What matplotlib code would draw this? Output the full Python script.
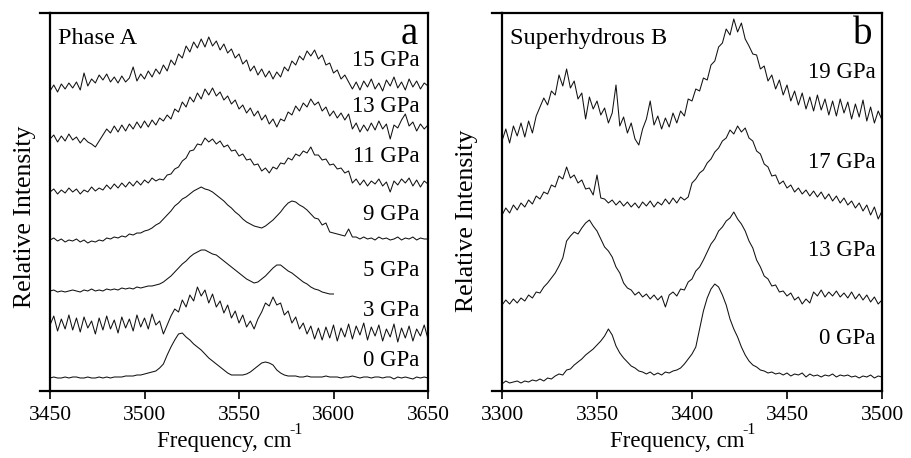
import numpy as np
import matplotlib
matplotlib.use("Agg")
import matplotlib.pyplot as plt
from matplotlib.lines import Line2D

plt.rcParams['font.family'] = ['Liberation Serif', 'DejaVu Serif']

# ---------------- Data (relative intensity with stacking offsets) ----------------
freq_a = np.arange(3450, 3651, 2)
freq_a5 = np.arange(3450, 3601, 2)
freq_b = np.arange(3300, 3501, 2)

a_15gpa = [300, 306, 299, 307, 302, 308, 303, 309, 301, 318, 305, 312, 308, 316, 311, 317, 309, 314, 308, 315,
           309, 313, 324, 310, 317, 312, 320, 314, 322, 317, 326, 320, 331, 326, 337, 333, 345, 339, 349, 343,
           352, 344, 354, 345, 350, 341, 347, 338, 342, 333, 337, 327, 331, 320, 325, 316, 322, 314, 320, 312,
           319, 314, 324, 320, 330, 326, 335, 331, 340, 335, 341, 332, 336, 326, 328, 318, 321, 312, 316, 309,
           302, 309, 301, 310, 304, 312, 302, 308, 300, 311, 305, 314, 303, 309, 301, 312, 304, 310, 302, 308, 305]
a_13gpa = [252, 256, 249, 255, 250, 257, 251, 254, 248, 253, 249, 247, 244, 250, 256, 262, 258, 265, 259, 266,
           260, 267, 262, 269, 263, 270, 264, 271, 266, 273, 270, 276, 272, 282, 279, 289, 284, 294, 289, 298,
           292, 302, 296, 303, 295, 299, 291, 295, 287, 291, 282, 286, 278, 283, 275, 280, 271, 276, 267, 272,
           264, 272, 270, 279, 276, 285, 280, 288, 284, 292, 286, 289, 280, 284, 275, 280, 273, 278, 271, 277,
           262, 268, 259, 266, 260, 268, 261, 270, 262, 267, 252, 266, 263, 271, 277, 265, 269, 260, 267, 262, 266]
a_11gpa = [199, 202, 197, 201, 198, 203, 199, 202, 197, 201, 199, 204, 200, 203, 201, 206, 202, 207, 203, 208,
           204, 209, 205, 210, 206, 211, 208, 213, 210, 212, 211, 216, 217, 222, 224, 230, 233, 240, 241, 247,
           246, 253, 249, 252, 247, 250, 244, 246, 240, 241, 235, 237, 231, 232, 226, 227, 220, 223, 218, 224,
           222, 228, 227, 233, 231, 237, 235, 240, 238, 244, 236, 236, 231, 232, 226, 227, 222, 223, 218, 220,
           208, 212, 206, 211, 205, 210, 207, 212, 205, 209, 199, 210, 206, 212, 208, 213, 205, 211, 204, 210, 207]
a_9gpa = [151, 153, 150, 152, 149, 151, 150, 152, 149, 151, 148, 150, 149, 151, 150, 153, 152, 154, 153, 155,
          154, 157, 156, 158, 158, 160, 161, 163, 166, 168, 172, 176, 180, 185, 188, 192, 194, 197, 200, 202,
          204, 202, 201, 199, 196, 193, 190, 186, 183, 179, 176, 172, 169, 167, 165, 164, 163, 165, 168, 171,
          175, 179, 184, 188, 190, 189, 186, 184, 181, 177, 173, 172, 166, 168, 159, 158, 157, 156, 155, 162,
          154, 154, 152, 154, 152, 153, 151, 154, 152, 153, 151, 152, 154, 151, 153, 152, 154, 151, 153, 152, 152]
a_5gpa = [100, 101, 99, 100, 99, 100, 101, 100, 99, 101, 100, 102, 100, 101, 100, 102, 101, 102, 101, 103,
          102, 103, 102, 104, 103, 104, 105, 105, 106, 107, 109, 112, 115, 119, 123, 127, 130, 134, 137, 139,
          141, 141, 139, 137, 136, 133, 130, 127, 124, 121, 118, 115, 112, 110, 108, 109, 112, 115, 119, 123,
          126, 126, 123, 120, 118, 115, 112, 109, 107, 104, 102, 101, 99, 98, 97, 97]
a_3gpa = [66, 75, 60, 72, 62, 76, 61, 73, 59, 74, 63, 70, 57, 73, 61, 75, 62, 71, 58, 74,
          63, 72, 60, 76, 64, 73, 62, 77, 66, 70, 57, 66, 75, 82, 79, 91, 84, 96, 90, 104,
          95, 101, 88, 97, 84, 90, 78, 86, 73, 80, 68, 76, 64, 70, 62, 72, 79, 88, 85, 94,
          86, 88, 76, 80, 68, 74, 62, 68, 57, 65, 52, 63, 51, 64, 53, 66, 50, 63, 54, 67,
          52, 65, 56, 68, 51, 64, 55, 66, 50, 62, 54, 67, 49, 63, 53, 65, 50, 62, 55, 66, 52]
a_0gpa = [13, 14, 13, 13, 14, 13, 14, 14, 13, 13, 14, 13, 13, 14, 13, 14, 13, 14, 14, 14,
          15, 15, 15, 16, 16, 17, 18, 19, 20, 23, 27, 36, 44, 51, 57, 58, 54, 51, 47, 44,
          41, 37, 33, 30, 27, 24, 21, 18, 16, 16, 16, 16, 17, 19, 22, 25, 28, 29, 28, 26,
          21, 18, 16, 15, 15, 15, 14, 14, 15, 14, 14, 14, 14, 15, 14, 14, 14, 13, 14, 14,
          15, 14, 13, 14, 14, 13, 14, 14, 13, 14, 14, 12, 14, 13, 14, 13, 12, 14, 13, 14, 13]

b_19gpa = [250, 262, 248, 265, 255, 268, 254, 270, 258, 275, 284, 293, 286, 300, 296, 316, 305, 322, 303, 310,
           292, 298, 272, 294, 282, 290, 276, 283, 268, 278, 306, 265, 274, 258, 268, 252, 246, 262, 272, 290,
           266, 275, 262, 273, 264, 278, 268, 280, 275, 292, 290, 302, 300, 313, 311, 326, 330, 344, 348, 362,
           356, 372, 359, 368, 352, 345, 337, 336, 322, 325, 310, 316, 302, 311, 296, 306, 290, 300, 286, 298,
           282, 294, 280, 296, 281, 292, 276, 290, 275, 292, 278, 289, 272, 287, 274, 291, 270, 284, 268, 280, 271]
b_17gpa = [176, 183, 178, 186, 181, 188, 184, 191, 187, 195, 192, 199, 197, 206, 204, 215, 212, 224, 213, 216,
           208, 211, 202, 203, 196, 216, 193, 192, 188, 191, 186, 190, 185, 189, 184, 188, 183, 189, 185, 190,
           184, 189, 186, 192, 187, 193, 188, 194, 191, 194, 208, 212, 218, 221, 228, 232, 239, 243, 250, 253,
           261, 257, 265, 259, 263, 253, 250, 240, 237, 227, 224, 215, 216, 207, 210, 203, 206, 199, 203, 197,
           201, 195, 200, 194, 199, 192, 197, 190, 195, 188, 193, 186, 190, 183, 188, 180, 186, 176, 184, 172, 180]
b_13gpa = [86, 91, 87, 92, 88, 93, 90, 96, 93, 99, 98, 104, 108, 113, 118, 125, 133, 150, 155, 159,
           157, 163, 168, 171, 165, 160, 152, 144, 140, 134, 124, 118, 108, 103, 101, 96, 99, 94, 97, 92,
           96, 91, 95, 84, 96, 99, 95, 102, 101, 109, 112, 120, 124, 131, 139, 147, 152, 160, 164, 170,
           173, 179, 172, 167, 160, 150, 143, 131, 124, 115, 112, 105, 106, 99, 100, 95, 98, 91, 94, 87,
           92, 88, 99, 95, 101, 94, 99, 95, 100, 94, 98, 93, 99, 92, 97, 91, 96, 89, 94, 87, 91]
b_0gpa = [7, 10, 8, 9, 10, 8, 10, 9, 11, 10, 12, 10, 13, 12, 15, 17, 16, 21, 22, 26,
          29, 32, 36, 39, 42, 46, 50, 55, 62, 56, 45, 38, 33, 29, 25, 23, 20, 19, 17, 19,
          16, 18, 16, 19, 18, 20, 21, 23, 27, 32, 37, 44, 62, 80, 93, 102, 107, 104, 96, 86,
          72, 62, 54, 44, 36, 30, 26, 24, 21, 20, 18, 19, 17, 18, 16, 18, 15, 17, 16, 18,
          14, 17, 15, 16, 14, 16, 15, 17, 14, 16, 15, 16, 14, 15, 13, 15, 14, 16, 13, 15, 14]

labels_a = ['15 GPa', '13 GPa', '11 GPa', '9 GPa', '5 GPa', '3 GPa', '0 GPa']
label_heights_a = [330, 285, 234, 177, 121, 80, 30]
labels_b = ['19 GPa', '17 GPa', '13 GPa', '0 GPa']
label_heights_b = [318, 228, 140, 53]
ticks_a = [3450, 3500, 3550, 3600, 3650]
ticks_b = [3300, 3350, 3400, 3450, 3500]

# ---------------- Figure ----------------
fig = plt.figure(figsize=(9.11, 4.58), dpi=100)
ax_a = fig.add_axes([50/911, 1-391/458, 378/911, 378/458])
ax_b = fig.add_axes([502/911, 1-391/458, 380/911, 378/458])

LW = 0.75
COL = '#111111'
FS = 16.5
TFS = 15.5

series_a = [(freq_a, a_15gpa), (freq_a, a_13gpa), (freq_a, a_11gpa), (freq_a, a_9gpa),
            (freq_a5, a_5gpa), (freq_a, a_3gpa), (freq_a, a_0gpa)]
for x, y in series_a:
    ax_a.plot(x, y, color=COL, lw=LW)
series_b = [(freq_b, b_19gpa), (freq_b, b_17gpa), (freq_b, b_13gpa), (freq_b, b_0gpa)]
for x, y in series_b:
    ax_b.plot(x, y, color=COL, lw=LW)

for ax, ticks, labels, heights, xlab_x, panel, title in [
        (ax_a, ticks_a, labels_a, label_heights_a, 3645.5, 'a', 'Phase A'),
        (ax_b, ticks_b, labels_b, label_heights_b, 3496.5, 'b', 'Superhydrous B')]:
    ax.set_xlim(ticks[0], ticks[-1])
    ax.set_ylim(0, 378)
    ax.set_xticks(ticks)
    ax.set_yticks([])
    ax.tick_params(axis='x', direction='out', length=6, width=1.2, pad=5, labelsize=TFS)
    for s in ax.spines.values():
        s.set_linewidth(1.6)
    xl = ax.set_xlabel('Frequency, cm', fontsize=FS)
    xl.set_verticalalignment('top')
    ax.xaxis.set_label_coords(0.46, -0.107)
    ax.annotate('-1', xy=(1.0, 1.0), xycoords=xl, xytext=(-1.5, 1), textcoords='offset points',
                ha='left', va='center', fontsize=11.5)
    ax.set_ylabel('Relative Intensity', fontsize=18.5)
    for lab, h in zip(labels, heights):
        ax.text(xlab_x, h, lab, ha='right', va='center', fontsize=FS)
    ax.text(0.02, 0.918, title, transform=ax.transAxes, ha='left', va='baseline', fontsize=17.5)
    ax.text(0.95, 0.918, panel, transform=ax.transAxes, ha='center', va='baseline', fontsize=28)
    # horizontal frame lines extend slightly left of the left spine
    for yy in (0, 1):
        ax.add_line(Line2D([-0.027, 0], [yy, yy], transform=ax.transAxes, color='black',
                           lw=1.6, clip_on=False))

ax_a.yaxis.set_label_coords(-0.038, 0.46)
ax_b.yaxis.set_label_coords(-0.062, 0.45)

fig.savefig('out.png', dpi=100)
